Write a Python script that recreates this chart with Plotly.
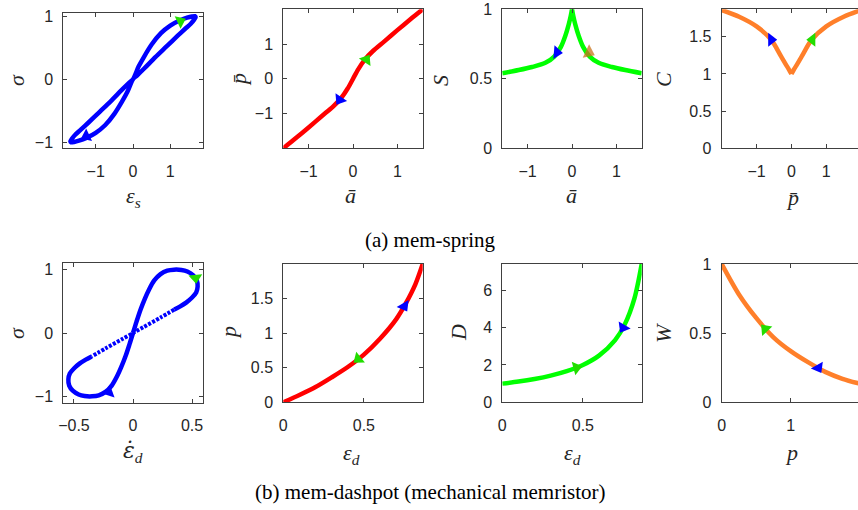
import plotly.graph_objects as go

# ---------------- (a) mem-spring ----------------
# panel 1: stress vs spring strain (pinched loop)
spring_strain = [0, 0.15, 0.3, 0.5, 0.75, 1.0, 1.25, 1.45, 1.58, 1.66,
                 1.68, 1.64, 1.55, 1.4, 1.2, 0.9, 0.6, 0.3, 0.1, 0,
                 -0.15, -0.3, -0.5, -0.75, -1.0, -1.25, -1.45, -1.58, -1.66,
                 -1.68, -1.64, -1.55, -1.4, -1.2, -0.9, -0.6, -0.3, -0.1, 0]
spring_stress = [0, 0.2, 0.36, 0.55, 0.73, 0.85, 0.93, 0.975, 0.995, 1.0,
                 0.985, 0.945, 0.88, 0.8, 0.69, 0.52, 0.35, 0.17, 0.055, 0,
                 -0.2, -0.36, -0.55, -0.73, -0.85, -0.93, -0.975, -0.995, -1.0,
                 -0.985, -0.945, -0.88, -0.8, -0.69, -0.52, -0.35, -0.17, -0.055, 0]

# panel 2: p-bar vs a-bar
a_bar = [-1.57, -1.3, -1.0, -0.7, -0.45, -0.27, -0.12, 0, 0.12, 0.27, 0.45, 0.7, 1.0, 1.3, 1.57]
p_bar = [-2.0, -1.72, -1.4, -1.07, -0.8, -0.56, -0.28, 0, 0.28, 0.56, 0.8, 1.07, 1.4, 1.72, 2.0]

# panel 3: S vs a-bar
a_bar_s = [-1.57, -1.2, -0.9, -0.6, -0.4, -0.25, -0.15, -0.075, -0.03, 0,
           0.03, 0.075, 0.15, 0.25, 0.4, 0.6, 0.9, 1.2, 1.57]
stiff_S = [0.54, 0.563, 0.585, 0.615, 0.66, 0.73, 0.81, 0.89, 0.95, 1.0,
           0.95, 0.89, 0.81, 0.73, 0.66, 0.615, 0.585, 0.563, 0.54]

# panel 4: C vs p-bar
p_bar_c = [-2.0, -1.5, -1.0, -0.58, -0.3, -0.15, -0.07, 0, 0.07, 0.15, 0.3, 0.58, 1.0, 1.5, 2.0]
comp_C = [1.86, 1.77, 1.64, 1.46, 1.24, 1.12, 1.06, 1.0, 1.06, 1.12, 1.24, 1.46, 1.64, 1.77, 1.86]

# ---------------- (b) mem-dashpot ----------------
# panel 5: stress vs strain rate (figure eight)
rate_lobes = [0, 0.03, 0.062, 0.1, 0.134, 0.18, 0.233, 0.29, 0.347, 0.41, 0.46, 0.51, 0.54, 0.547,
              0.535, 0.5, 0.45, 0.4, 0.35, None,
              0, -0.03, -0.062, -0.1, -0.134, -0.18, -0.233, -0.29, -0.347, -0.41, -0.46, -0.51, -0.54,
              -0.547, -0.535, -0.5, -0.45, -0.4, -0.35]
stress_lobes = [0, 0.18, 0.36, 0.54, 0.68, 0.83, 0.93, 0.985, 1.0, 0.995, 0.97, 0.91, 0.83, 0.73,
                0.64, 0.56, 0.48, 0.42, 0.37, None,
                0, -0.18, -0.36, -0.54, -0.68, -0.83, -0.93, -0.985, -1.0, -0.995, -0.97, -0.91, -0.83,
                -0.73, -0.64, -0.56, -0.48, -0.42, -0.37]
rate_shallow = [0.35, 0.23, 0.09, 0, -0.09, -0.23, -0.35]
stress_shallow = [0.37, 0.24, 0.095, 0, -0.095, -0.24, -0.37]

# panels 6-7: p and D vs dashpot strain
eps_d = [0, 0.1, 0.2, 0.3, 0.4, 0.5, 0.6, 0.7, 0.76, 0.82, 0.865]
p_d = [0, 0.105, 0.22, 0.36, 0.51, 0.69, 0.92, 1.2, 1.43, 1.71, 2.0]
D_d = [1.0, 1.11, 1.25, 1.43, 1.67, 2.0, 2.5, 3.33, 4.17, 5.56, 7.4]

# panel 8: W vs p
p_w = [0, 0.25, 0.5, 0.75, 1.0, 1.25, 1.5, 1.75, 2.0]
W_w = [1.0, 0.78, 0.61, 0.47, 0.37, 0.29, 0.22, 0.17, 0.135]

# direction markers: (panel, x, y, colour key, angle)
arrow_marks = [
    (1, 1.27, 0.92, "g", 65), (1, -1.25, -0.9, "b", 245),
    (2, 0.3, 0.55, "g", 33), (2, -0.3, -0.6, "b", 213),
    (3, -0.34, 0.69, "b", 95), (3, 0.38, 0.69, "o", 115),
    (4, -0.58, 1.46, "b", 90), (4, 0.6, 1.46, "g", 270),
    (5, 0.53, 0.87, "g", 175), (5, -0.2, -0.93, "b", 250),
    (6, 0.465, 0.625, "g", 231), (6, 0.75, 1.39, "b", 150),
    (7, 0.46, 1.85, "g", 75), (7, 0.75, 4.0, "b", 210),
    (8, 0.63, 0.53, "g", 317), (8, 1.4, 0.25, "b", 150),
]

# ---------------- layout geometry ----------------
W_PX, H_PX = 858, 510
boxes = {
    1: (63.3, 202.7, 13.0, 148.3), 2: (283.3, 422.7, 9.3, 148.3),
    3: (502.3, 641.7, 9.3, 148.3), 4: (721.7, 858.0, 9.3, 148.3),
    5: (63.3, 202.7, 263.3, 402.7), 6: (283.3, 422.7, 264.0, 402.3),
    7: (502.3, 641.7, 264.0, 402.3), 8: (721.7, 858.0, 264.0, 402.3),
}
xranges = {1: [-1.87, 1.87], 2: [-1.57, 1.57], 3: [-1.57, 1.57], 4: [-2, 1.91],
           5: [-0.59, 0.59], 6: [0, 0.865], 7: [0, 0.865], 8: [0, 1.975]}
yranges = {1: [-1.095, 1.05], 2: [-2, 2], 3: [0, 1], 4: [0, 1.87],
           5: [-1.1, 1.1], 6: [0, 2], 7: [0, 7.4], 8: [0, 1]}
xticks = {1: [-1, 0, 1], 2: [-1, 0, 1], 3: [-1, 0, 1], 4: [-1, 0, 1],
          5: [-0.5, 0, 0.5], 6: [0, 0.5], 7: [0, 0.5], 8: [0, 1]}
yticks = {1: [-1, 0, 1], 2: [-1, 0, 1], 3: [0, 0.5, 1], 4: [0, 0.5, 1, 1.5],
          5: [-1, 0, 1], 6: [0, 0.5, 1, 1.5], 7: [0, 2, 4, 6], 8: [0, 0.5, 1]}

BLUE, RED, GREEN, ORANGE = "#0000FF", "#FF0000", "#00FF00", "#FF7F2A"
mark_col = {"g": "#22DD00", "b": "#0000FF", "o": "#C8741E"}
LW = 4.5

fig = go.Figure()


def ax(i):
    return ("x" if i == 1 else f"x{i}"), ("y" if i == 1 else f"y{i}")


def line(i, x, y, color, shape="spline", dash=None, width=LW):
    xa, ya = ax(i)
    fig.add_trace(go.Scatter(x=x, y=y, mode="lines", xaxis=xa, yaxis=ya,
                             line=dict(color=color, width=width, shape=shape, dash=dash,
                                       smoothing=0.8),
                             hoverinfo="skip", showlegend=False))


def marker(i, x, y, c, ang, size=12, opacity=1.0):
    xa, ya = ax(i)
    fig.add_trace(go.Scatter(x=[x], y=[y], mode="markers", xaxis=xa, yaxis=ya,
                             marker=dict(symbol="triangle-up", size=size, angle=ang,
                                         color=mark_col[c], opacity=opacity,
                                         line=dict(width=0)),
                             showlegend=False, hoverinfo="skip"))


line(1, spring_strain, spring_stress, BLUE)
line(2, a_bar, p_bar, RED)
line(3, a_bar_s[:10], stiff_S[:10], GREEN)
line(3, a_bar_s[9:], stiff_S[9:], GREEN)
line(4, p_bar_c[:8], comp_C[:8], ORANGE)
line(4, p_bar_c[7:], comp_C[7:], ORANGE)
line(5, rate_lobes, stress_lobes, BLUE)
line(5, rate_shallow, stress_shallow, BLUE, dash="3px,1.5px", width=4)
line(6, eps_d, p_d, RED)
line(7, eps_d, D_d, GREEN)
line(8, p_w, W_w, ORANGE)

for (i, x, y, c, ang) in arrow_marks:
    if c == "o":
        marker(i, x, y, c, ang, size=13, opacity=0.75)
    else:
        marker(i, x, y, c, ang)

AXC = "#404040"
TICKFONT = dict(family="Liberation Sans, Arial, sans-serif", size=16, color="#262626")
layout = dict(width=W_PX, height=H_PX,
              margin=dict(l=0, r=0, t=0, b=0, pad=0, autoexpand=False),
              paper_bgcolor="white", plot_bgcolor="white", showlegend=False)
for i, (x0, x1, yt, yb) in boxes.items():
    xk = "xaxis" if i == 1 else f"xaxis{i}"
    yk = "yaxis" if i == 1 else f"yaxis{i}"
    xa, ya = ax(i)
    edge = i in (4, 8)
    common = dict(ticks="inside", ticklen=4, tickwidth=1, tickcolor=AXC, showline=True,
                  linecolor=AXC, linewidth=1, showgrid=False, zeroline=False,
                  tickfont=TICKFONT, fixedrange=True, automargin=False)
    layout[xk] = dict(domain=[x0 / W_PX, x1 / W_PX], anchor=ya, range=xranges[i],
                      tickvals=xticks[i], mirror="ticks", ticklabelstandoff=8, **common)
    layout[yk] = dict(domain=[1 - yb / H_PX, 1 - yt / H_PX], anchor=xa, range=yranges[i],
                      tickvals=yticks[i], mirror=False if edge else "ticks",
                      ticklabelstandoff=6, **common)
fig.update_layout(**layout)

MATH = dict(family="Liberation Serif, DejaVu Serif, serif", size=22, color="#262626")
ylabels = [(16, 80, "<i>σ</i>"), (238, 80, "<i>p̄</i>"), (440, 80, "<i>S</i>"),
           (663, 80, "<i>C</i>"), (16, 333, "<i>σ</i>"), (228, 333, "<i>p</i>"),
           (458, 333, "<i>D</i>"), (663, 333, "<i>W</i>")]
xlabels = [(133, 197, "<i>ε</i><sub><i>s</i></sub>"), (350, 195, "<i>ā</i>"),
           (571, 195, "<i>ā</i>"), (792, 198, "<i>p̄</i>"),
           (133, 452, "<i><span style=\"font-family:'DejaVu Serif'\">ε̇</span></i><sub><i>d</i></sub>"),
           (351, 454, "<i>ε</i><sub><i>d</i></sub>"),
           (572, 454, "<i>ε</i><sub><i>d</i></sub>"), (791, 452, "<i>p</i>")]
annos = []
for (px, py, t) in ylabels:
    annos.append(dict(x=px / W_PX, y=1 - py / H_PX, xref="paper", yref="paper", text=t,
                      showarrow=False, textangle=-90, font=MATH,
                      xanchor="center", yanchor="middle"))
for (px, py, t) in xlabels:
    annos.append(dict(x=px / W_PX, y=1 - py / H_PX, xref="paper", yref="paper", text=t,
                      showarrow=False, font=MATH, xanchor="center", yanchor="middle"))
CAP = dict(family="Liberation Serif, Times New Roman, serif", size=21, color="black")
annos.append(dict(x=430 / W_PX, y=1 - 240 / H_PX, xref="paper", yref="paper",
                  text="(a) mem-spring", showarrow=False, font=CAP,
                  xanchor="center", yanchor="middle"))
annos.append(dict(x=430 / W_PX, y=1 - 492 / H_PX, xref="paper", yref="paper",
                  text="(b) mem-dashpot (mechanical memristor)", showarrow=False, font=CAP,
                  xanchor="center", yanchor="middle"))
fig.update_layout(annotations=annos)

fig.write_html("out.html", config={"displayModeBar": False},
               post_script="document.body.style.margin='0';document.body.style.padding='0';")
